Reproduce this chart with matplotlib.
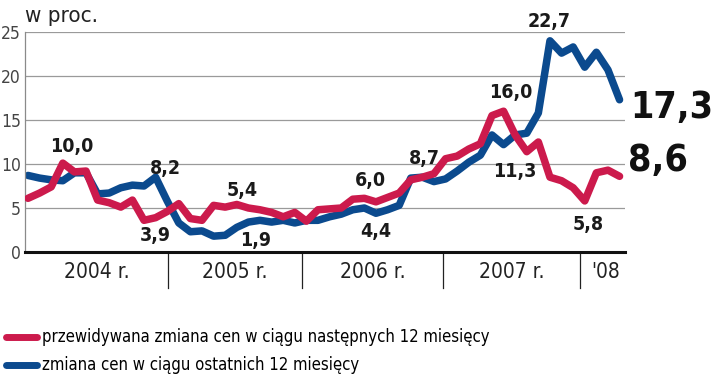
import os
import re
import numpy as np
import matplotlib
matplotlib.use('Agg')
import matplotlib.pyplot as plt
from matplotlib import font_manager as fm
from matplotlib.lines import Line2D

# --- DATA (monthly, Jan 2004 - Apr 2008) ---
expected = [6.1, 6.7, 7.4, 10.1, 9.1, 9.2, 5.9, 5.6, 5.1, 5.9, 3.6, 3.9,
            4.6, 5.5, 3.8, 3.6, 5.3, 5.1, 5.4, 5.0, 4.8, 4.5, 4.0, 4.5,
            3.5, 4.8, 4.9, 5.0, 6.0, 6.1, 5.7, 6.2, 6.7, 8.2, 8.5, 8.9,
            10.6, 10.9, 11.7, 12.3, 15.5, 16.0, 13.3, 11.4, 12.5, 8.5, 8.1, 7.3,
            5.8, 9.0, 9.3, 8.6]
past = [8.7, 8.4, 8.2, 8.1, 9.0, 9.0, 6.6, 6.7, 7.3, 7.6, 7.5, 8.5,
        5.8, 3.3, 2.3, 2.4, 1.8, 1.9, 2.8, 3.4, 3.6, 3.4, 3.6, 3.3,
        3.6, 3.6, 4.0, 4.3, 4.8, 5.0, 4.4, 4.8, 5.3, 8.4, 8.5, 8.0,
        8.3, 9.2, 10.2, 11.0, 13.3, 12.2, 13.3, 13.5, 15.8, 24.0, 22.6, 23.3,
        21.0, 22.7, 20.7, 17.3]
year_labels = ['2004 r.', '2005 r.', '2006 r.', '2007 r.', "'08"]
year_bounds = [-0.26, 12.07, 23.6, 35.8, 47.6, 51.47]

# value labels: (text, series, index)
point_labels = [('10,0', 'e', 3), ('8,2', 'p', 11), ('3,9', 'e', 11),
                ('5,4', 'e', 18), ('1,9', 'p', 17), ('6,0', 'e', 28),
                ('4,4', 'p', 30), ('8,7', 'p', 34), ('16,0', 'e', 41),
                ('11,3', 'e', 43), ('22,7', 'p', 45), ('5,8', 'e', 48)]

RED = '#cc1a4c'
BLUE = '#0b4a8e'


def pick_font(patterns, fallback_weight='normal'):
    """Return FontProperties for the first installed file matching a pattern."""
    paths = sorted({f.fname for f in fm.fontManager.ttflist})
    for pat in patterns:
        for p in paths:
            if re.search(pat, os.path.basename(p), re.I):
                return fm.FontProperties(fname=p)
    return fm.FontProperties(family='DejaVu Sans', weight=fallback_weight)


cond_reg = pick_font([r'^LiberationSansNarrow-Regular', r'^DejaVuSansCondensed\.ttf',
                      r'^RobotoCondensed-Regular', r'^NotoSans-Condensed\.ttf',
                      r'^NotoSans-CondensedRegular', r'^OpenSans.*Condensed-Regular'])
cond_bold = pick_font([r'^LiberationSansNarrow-Bold\.', r'^DejaVuSansCondensed-Bold\.',
                       r'^RobotoCondensed-Bold\.', r'^NotoSans-CondensedBold\.',
                       r'^OpenSans.*Condensed-Bold\.'], 'bold')


def fp(base, size):
    f = base.copy()
    f.set_size(size)
    return f


x = np.arange(len(expected))
fig = plt.figure(figsize=(7.2, 3.8), dpi=100)
ax = fig.add_axes([25/720, 128/380, 600/720, 220/380])

ax.set_xlim(year_bounds[0], year_bounds[-1])
ax.set_ylim(0, 25)

for v in [5, 10, 15, 20, 25]:
    ax.axhline(v, color='#9a9a9a', lw=0.9, zorder=0)

ax.plot(x, past, color=BLUE, lw=5.4, solid_joinstyle='round', solid_capstyle='round', zorder=2)
ax.plot(x, expected, color=RED, lw=5.4, solid_joinstyle='round', solid_capstyle='round', zorder=3)

for s in ['top', 'right']:
    ax.spines[s].set_visible(False)
ax.spines['left'].set_color('#8a8a8a')
ax.spines['left'].set_linewidth(0.9)
ax.spines['bottom'].set_color('#111111')
ax.spines['bottom'].set_linewidth(2.2)

ax.set_yticks([0, 5, 10, 15, 20, 25])
ax.set_yticklabels(['0', '5', '10', '15', '20', '25'], fontproperties=fp(cond_reg, 12.5),
                   color='#444444')
ax.tick_params(axis='y', length=0, pad=3)
ax.set_xticks([])

# year separators and labels
for b in year_bounds[1:-1]:
    ax.plot([b, b], [0, -0.165], transform=ax.get_xaxis_transform(), color='#222222',
            lw=0.9, clip_on=False)
for i, lab in enumerate(year_labels):
    ax.text((year_bounds[i] + year_bounds[i + 1]) / 2 + (0.3 if i == 4 else 0), -0.09, lab,
            transform=ax.get_xaxis_transform(), ha='center', va='center',
            fontproperties=fp(cond_reg, 15), color='#222222')

ax.text(0, 1.045, 'w proc.', transform=ax.transAxes, ha='left', va='baseline',
        fontproperties=fp(cond_reg, 16), color='#222222')

# value annotations (offsets in pixels -> points)
offsets = {'10,0': (9, 17), '8,2': (10, 9), '3,9': (0, -18), '5,4': (5, 14),
           '1,9': (30, -5), '6,0': (18, 19), '4,4': (0, -18), '8,7': (2, 19),
           '16,0': (7, 19), '11,3': (-12, -20), '22,7': (-1, 19), '5,8': (3, -24)}
for txt, ser, idx in point_labels:
    val = expected[idx] if ser == 'e' else past[idx]
    dx, dy = offsets[txt]
    ax.annotate(txt, xy=(idx, val), xytext=(dx * 0.72, dy * 0.72), textcoords='offset points',
                ha='center', va='center', fontproperties=fp(cond_bold, 14), color='#1a1a1a')

ax.annotate('17,3', xy=(x[-1], past[-1]), xytext=(11 * 0.72, -8 * 0.72), textcoords='offset points',
            ha='left', va='center', fontproperties=fp(cond_bold, 27), color='#111111',
            annotation_clip=False)
ax.annotate('8,6', xy=(x[-1], expected[-1]), xytext=(8 * 0.72, 15 * 0.72), textcoords='offset points',
            ha='left', va='center', fontproperties=fp(cond_bold, 27), color='#111111',
            annotation_clip=False)

handles = [Line2D([], [], color=RED, lw=5, solid_capstyle='round'),
           Line2D([], [], color=BLUE, lw=5, solid_capstyle='round')]
fig.legend(handles, ['przewidywana zmiana cen w ciągu następnych 12 miesięcy',
                     'zmiana cen w ciągu ostatnich 12 miesięcy'],
           loc='upper left', bbox_to_anchor=(-0.012, 0.175), frameon=False,
           handlelength=1.85, handletextpad=0.3, labelspacing=0.6,
           prop=fp(cond_reg, 12.0))

fig.savefig('out.png', dpi=100)
